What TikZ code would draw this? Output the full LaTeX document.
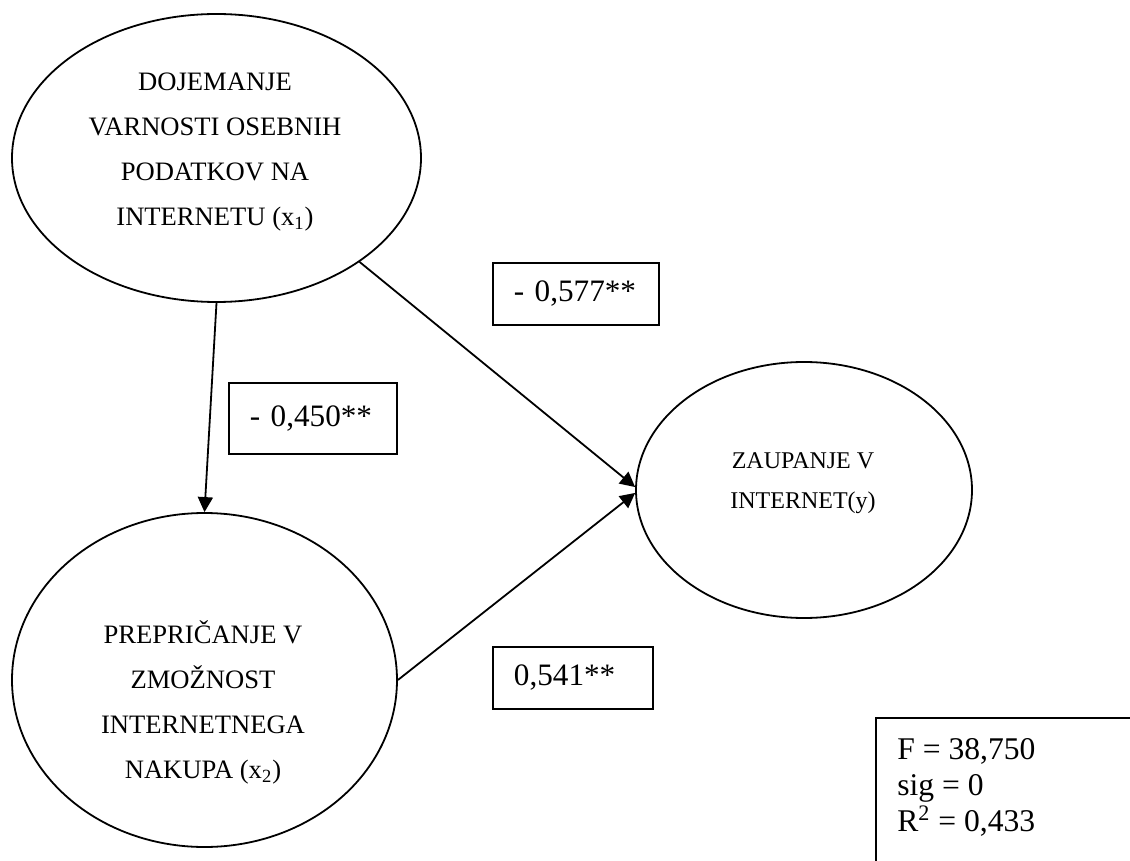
\documentclass[tikz,border=0pt]{standalone}
\usepackage{fontspec}
\setmainfont{Liberation Serif}
\usetikzlibrary{shapes.geometric,arrows.meta}
\begin{document}
\begin{tikzpicture}[x=0.5pt,y=-0.5pt,
  ell/.style={draw,ellipse,line width=0.9pt,inner sep=0pt},
  etext/.style={align=center,inner sep=0pt,font=\fontsize{13.3}{22.5}\selectfont},
  coef/.style={draw,rectangle,line width=0.9pt,anchor=north west,align=left,inner xsep=10.5pt,inner ysep=0pt,font=\fontsize{15.6}{18}\selectfont},
  conn/.style={-{Triangle[length=7.5pt,width=7.5pt]},line width=0.9pt}]
\clip (0,0) rectangle (1130,861);
% latent variables
\node[ell,minimum width=204.5pt,minimum height=144pt] (x1) at (216.5,158) {};
\node[etext] (x1t) at (215,152) {DOJEMANJE\\VARNOSTI OSEBNIH\\PODATKOV NA\\INTERNETU (x\textsubscript{1})};
\node[ell,minimum width=192.5pt,minimum height=167pt] (x2) at (204.5,680) {};
\node[etext] (x2t) at (203,702) {PREPRIČANJE V\\ZMOŽNOST\\INTERNETNEGA\\NAKUPA (x\textsubscript{2})};
\node[ell,minimum width=168pt,minimum height=128pt] (y) at (804,490) {};
\node[etext,font=\fontsize{12}{20}\selectfont] (yt) at (803,483) {ZAUPANJE V\\INTERNET(y)};
% coefficients
\node[coef,text width=62pt,minimum height=31pt] (b1) at (492,262) {- 0,577**};
\node[coef,text width=63pt,minimum height=35.5pt] (b2) at (228,382) {- 0,450**};
\node[coef,text width=59pt,minimum height=31pt] (b3) at (492,646) {0,541**};
% statistics box
\draw[line width=0.9pt] (876,718) rectangle (1140,880);
\node[anchor=north west,align=left,inner sep=0pt,font=\fontsize{15.8}{18}\selectfont] (stats) at (897,738) {F = 38,750\\sig = 0\\R\textsuperscript{2} = 0,433};
% connectors
\draw[conn] (x1.-36) -- (y.179);
\draw[conn] (x1.south) -- (x2.north);
\draw[conn] (x2.east) -- (y.181);
\end{tikzpicture}
\end{document}
